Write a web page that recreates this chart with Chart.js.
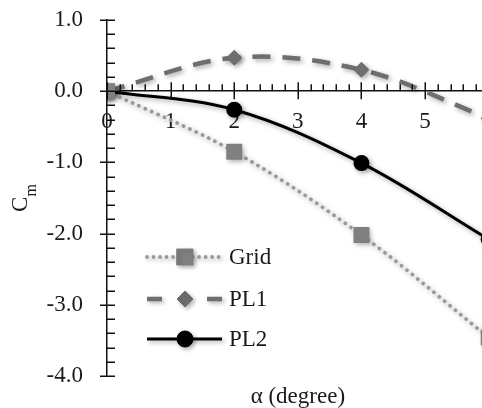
<!DOCTYPE html>
<html><head><meta charset="utf-8">
<script src="https://cdn.jsdelivr.net/npm/chart.js@4.4.1/dist/chart.umd.min.js"></script>
<style>
html,body{margin:0;padding:0;background:#fff;overflow:hidden;width:482px;height:408px;}
#wrap{position:relative;width:482px;height:408px;overflow:hidden;background:#fff;}
canvas{display:block;}
</style></head><body>
<div id="wrap"><canvas id="c" width="500" height="408" style="width:500px;height:408px"></canvas></div>
<script>
// ---- data ----
const alpha = [0, 2, 4, 6];
const gridCm = [0, -0.85, -2.02, -3.46];
const pl1Cm = [0, 0.47, 0.30, -0.38];
const pl2Cm = [0, -0.26, -1.01, -2.08];
const seriesNames = ['Grid', 'PL1', 'PL2'];
const xRange = [0, 6];
const yRange = [-4, 1];
const xTitle = 'α (degree)';
const yTitleMain = 'C';
const yTitleSub = 'm';

const FONT = 'Liberation Serif, Times New Roman, serif';
const pts = (ys) => alpha.map((a, i) => ({x: a, y: ys[i]}));

const shadowPlugin = {
  id: 'shadow',
  beforeDatasetsDraw(chart) {
    const ctx = chart.ctx;
    ctx.save();
    ctx.shadowColor = 'rgba(0,0,0,0.35)';
    ctx.shadowBlur = 5;
    ctx.shadowOffsetX = 2;
    ctx.shadowOffsetY = 2;
  },
  afterDatasetsDraw(chart) { chart.ctx.restore(); }
};

const axisDecor = {
  id: 'axisDecor',
  afterDraw(chart) {
    const ctx = chart.ctx;
    const xs = chart.scales.x, ys = chart.scales.y;
    const x0 = xs.getPixelForValue(0), y0 = ys.getPixelForValue(0);
    ctx.save();
    ctx.strokeStyle = '#111';
    ctx.lineWidth = 1.5;
    ctx.beginPath();
    for (let k = yRange[0] * 5; k <= yRange[1] * 5; k++) {
      const py = Math.round(ys.getPixelForValue(k / 5)) + 0.25;
      if (k % 5 === 0) { ctx.moveTo(x0 - 7, py); ctx.lineTo(x0 + 8, py); }
      else { ctx.moveTo(x0, py); ctx.lineTo(x0 + 8, py); }
    }
    for (let k = xRange[0] * 5; k <= xRange[1] * 5; k++) {
      const px = Math.round(xs.getPixelForValue(k / 5)) + 0.25;
      if (k % 5 === 0) { ctx.moveTo(px, y0 - 9); ctx.lineTo(px, y0 + 8); }
      else { ctx.moveTo(px, y0 - 7); ctx.lineTo(px, y0); }
    }
    ctx.stroke();

    // axis titles
    const ca = chart.chartArea;
    ctx.fillStyle = '#1a1a1a';
    ctx.font = '23px ' + FONT;
    ctx.textAlign = 'center';
    ctx.textBaseline = 'alphabetic';
    ctx.fillText(xTitle, (ca.left + ca.right) / 2, 403);

    ctx.save();
    const cy = (ca.top + ca.bottom) / 2;
    ctx.font = '23px ' + FONT;
    const wC = ctx.measureText(yTitleMain).width;
    ctx.font = '16px ' + FONT;
    const wm = ctx.measureText(yTitleSub).width;
    ctx.translate(27, cy + (wC + wm) / 2);
    ctx.rotate(-Math.PI / 2);
    ctx.textAlign = 'left';
    ctx.font = '23px ' + FONT;
    ctx.fillText(yTitleMain, 0, 0);
    ctx.font = '16px ' + FONT;
    ctx.fillText(yTitleSub, wC, 9);
    ctx.restore();

    // legend
    const rows = [257, 299, 339];
    const lx0 = 147, lx1 = 222, mx = 185;
    chart.data.datasets.forEach((ds, i) => {
      const y = rows[i];
      ctx.save();
      ctx.shadowColor = 'rgba(0,0,0,0.3)';
      ctx.shadowBlur = 4; ctx.shadowOffsetX = 2; ctx.shadowOffsetY = 2;
      ctx.strokeStyle = ds.borderColor;
      ctx.lineWidth = ds.borderWidth;
      ctx.lineCap = ds.borderCapStyle || 'butt';
      ctx.setLineDash(ds.legendDash || []);
      ctx.lineDashOffset = 0;
      ctx.beginPath(); ctx.moveTo(lx0, y); ctx.lineTo(lx1, y); ctx.stroke();
      ctx.setLineDash([]);
      ctx.fillStyle = ds.pointBackgroundColor;
      ctx.strokeStyle = ds.pointBorderColor;
      ctx.lineWidth = 1;
      Chart.helpers.drawPoint(ctx, {pointStyle: ds.pointStyle, radius: ds.pointRadius, borderWidth: 1, rotation: 0}, mx, y);
      ctx.restore();
      ctx.fillStyle = '#1a1a1a';
      ctx.font = '23px ' + FONT;
      ctx.textAlign = 'left';
      ctx.textBaseline = 'middle';
      ctx.fillText(ds.label, 229, y + 1);
    });
    ctx.restore();
  }
};

new Chart(document.getElementById('c'), {
  type: 'line',
  data: {
    datasets: [
      {label: seriesNames[0], data: pts(gridCm), borderColor: '#999999', borderWidth: 3.8,
       borderDash: [0.01, 7], legendDash: [0.01, 6.5], borderCapStyle: 'round', pointStyle: 'rect', pointRadius: 11.3,
       pointBackgroundColor: '#808080', pointBorderColor: '#808080', pointBorderWidth: 0, tension: 0.35},
      {label: seriesNames[1], data: pts(pl1Cm), borderColor: '#6e6e6e', borderWidth: 4.5,
       borderDash: [18, 12], legendDash: [15, 45], pointStyle: 'rectRot', pointRadius: 8,
       pointBackgroundColor: '#6e6e6e', pointBorderColor: '#6e6e6e', pointBorderWidth: 0, tension: 0.35},
      {label: seriesNames[2], data: pts(pl2Cm), borderColor: '#000', borderWidth: 3,
       borderDash: [], legendDash: [], pointStyle: 'circle', pointRadius: 8,
       pointBackgroundColor: '#000', pointBorderColor: '#000', pointBorderWidth: 0, tension: 0.35}
    ]
  },
  options: {
    responsive: false, animation: false, devicePixelRatio: 1,
    layout: {padding: {left: 0, top: 20, right: 11, bottom: 32}},
    plugins: {legend: {display: false}, tooltip: {enabled: false}},
    scales: {
      x: {type: 'linear', min: xRange[0], max: xRange[1], position: {y: 0},
          ticks: {stepSize: 1, color: '#1a1a1a', font: {family: FONT, size: 23}, padding: 0, maxRotation: 0, autoSkip: false,
                  callback: v => (v >= xRange[1] ? '' : String(v))},
          grid: {drawOnChartArea: false, drawTicks: true, tickLength: 17, tickColor: 'rgba(0,0,0,0)'},
          border: {color: '#111', width: 1.5}},
      y: {type: 'linear', min: yRange[0], max: yRange[1], position: 'left',
          afterFit: (s) => { s.width = 107; },
          ticks: {stepSize: 1, color: '#1a1a1a', font: {family: FONT, size: 23}, padding: 0,
                  callback: v => Number(v).toFixed(1)},
          grid: {drawOnChartArea: false, drawTicks: true, tickLength: 24, tickColor: 'rgba(0,0,0,0)'},
          border: {color: '#111', width: 1.5}}
    }
  },
  plugins: [shadowPlugin, axisDecor]
});
</script>
</body></html>
